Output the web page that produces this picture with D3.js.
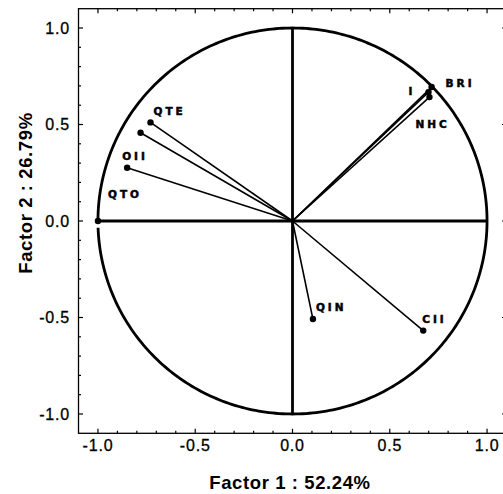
<!DOCTYPE html>
<html>
<head>
<meta charset="utf-8">
<script src="https://cdn.jsdelivr.net/npm/d3@7/dist/d3.min.js"></script>
<style>
  html, body { margin: 0; padding: 0; background: #fff; }
  svg { display: block; }
</style>
</head>
<body>
<svg id="chart" width="503" height="494"></svg>
<script>
// ---- data ----
const variables = ["BRI", "I", "NHC", "QTE", "", "OII", "QTO", "QIN", "CII"];
const factor1   = [0.715, 0.699, 0.704, -0.730, -0.781, -0.850, -1.000, 0.105, 0.672];
const factor2   = [0.694, 0.668, 0.642, 0.511, 0.457, 0.276, 0.000, -0.508, -0.568];
const majorTicks = [-1.0, -0.5, 0.0, 0.5, 1.0];
const tickLabels = ["-1.0", "-0.5", "0.0", "0.5", "1.0"];
const minorTicks = [-1.0,-0.9,-0.8,-0.7,-0.6,-0.5,-0.4,-0.3,-0.2,-0.1,0,0.1,0.2,0.3,0.4,0.5,0.6,0.7,0.8,0.9,1.0];
const xTitle = "Factor 1 : 52.24%";
const yTitle = "Factor 2 : 26.79%";

// ---- layout ----
const svg = d3.select("#chart");
const x = d3.scaleLinear().domain([-1.1, 1.1]).range([78.5, 506.5]);
const y = d3.scaleLinear().domain([-1.1, 1.1]).range([433.3, 8.7]);

// label offsets (layout only)
const labelOffset = {
  "BRI": [14, 0, "start"],
  "I":   [-13, 3, "end"],
  "NHC": [-14, 31, "start"],
  "QTE": [3, -7, "start"],
  "OII": [-5, -8, "start"],
  "QTO": [10, -23, "start"],
  "QIN": [3, -8, "start"],
  "CII": [-1, -8, "start"]
};

const pts = variables.map((v, i) => ({ name: v, f1: factor1[i], f2: factor2[i] }));

// unit circle (with the small gap seen on the left)
const angles = d3.range(182, 540.01, 1).map(a => a * Math.PI / 180);
const circleLine = d3.line().x(a => x(Math.cos(a))).y(a => y(Math.sin(a)));
svg.append("path")
  .attr("d", circleLine(angles))
  .attr("fill", "none")
  .attr("stroke", "#000")
  .attr("stroke-width", 2.8);

// axes through origin
svg.append("line")
  .attr("x1", x(-1)).attr("x2", x(1)).attr("y1", y(0)).attr("y2", y(0))
  .attr("stroke", "#000").attr("stroke-width", 2.8);
svg.append("line")
  .attr("x1", x(0)).attr("x2", x(0)).attr("y1", y(1)).attr("y2", y(-1))
  .attr("stroke", "#000").attr("stroke-width", 2.8);

// vectors
svg.append("g").selectAll("line").data(pts).join("line")
  .attr("x1", x(0)).attr("y1", y(0))
  .attr("x2", d => x(d.f1)).attr("y2", d => y(d.f2))
  .attr("stroke", "#000").attr("stroke-width", 1.6);

svg.append("g").selectAll("circle").data(pts).join("circle")
  .attr("cx", d => x(d.f1)).attr("cy", d => y(d.f2))
  .attr("r", 3.2).attr("fill", "#000");

// labels
svg.append("g").selectAll("text").data(pts.filter(d => d.name)).join("text")
  .attr("x", d => x(d.f1) + labelOffset[d.name][0])
  .attr("y", d => y(d.f2) + labelOffset[d.name][1])
  .attr("text-anchor", d => labelOffset[d.name][2])
  .attr("font-family", "DejaVu Sans, sans-serif")
  .attr("font-weight", "bold")
  .attr("font-size", 10.5)
  .attr("stroke", "#000").attr("stroke-width", 0.5)
  .style("letter-spacing", "3px")
  .text(d => d.name);

// frame
const [x0, x1] = x.range();
const [y0, y1] = y.range();
svg.append("rect")
  .attr("x", x0).attr("y", y1)
  .attr("width", x1 - x0).attr("height", y0 - y1)
  .attr("fill", "none").attr("stroke", "#000").attr("stroke-width", 1.3);

// inward ticks on all four sides
const isMajor = v => majorTicks.some(m => Math.abs(m - v) < 1e-9);
const tg = svg.append("g").attr("stroke", "#000").attr("stroke-width", 1.2);
minorTicks.forEach(v => {
  const L = isMajor(v) ? 4.5 : 2.5;
  tg.append("line").attr("x1", x(v)).attr("x2", x(v)).attr("y1", y0).attr("y2", y0 - L);
  tg.append("line").attr("x1", x(v)).attr("x2", x(v)).attr("y1", y1).attr("y2", y1 + L);
  tg.append("line").attr("y1", y(v)).attr("y2", y(v)).attr("x1", x0).attr("x2", x0 + L);
  tg.append("line").attr("y1", y(v)).attr("y2", y(v)).attr("x1", x1).attr("x2", x1 - L);
});

// tick labels
svg.append("g").selectAll("text").data(majorTicks).join("text")
  .attr("x", d => x(d)).attr("y", 451)
  .attr("text-anchor", "middle")
  .attr("font-family", "Liberation Sans, Arial, sans-serif")
  .attr("font-size", 16)
  .attr("stroke", "#000").attr("stroke-width", 0.3)
  .style("letter-spacing", "0.8px")
  .text((d, i) => tickLabels[i]);
svg.append("g").selectAll("text").data(majorTicks).join("text")
  .attr("x", 70).attr("y", d => y(d) + 5.5)
  .attr("text-anchor", "end")
  .attr("font-family", "Liberation Sans, Arial, sans-serif")
  .attr("font-size", 16)
  .attr("stroke", "#000").attr("stroke-width", 0.3)
  .style("letter-spacing", "0.8px")
  .text((d, i) => tickLabels[i]);

// axis titles
svg.append("text")
  .attr("x", 290).attr("y", 489)
  .attr("text-anchor", "middle")
  .attr("font-family", "Liberation Sans, Arial, sans-serif")
  .attr("font-weight", "bold")
  .attr("font-size", 18.5)
  .style("letter-spacing", "0.6px")
  .text(xTitle);
svg.append("text")
  .attr("transform", "translate(32,193) rotate(-90)")
  .attr("text-anchor", "middle")
  .attr("font-family", "Liberation Sans, Arial, sans-serif")
  .attr("font-weight", "bold")
  .attr("font-size", 18.5)
  .style("letter-spacing", "0.6px")
  .text(yTitle);
</script>
</body>
</html>
